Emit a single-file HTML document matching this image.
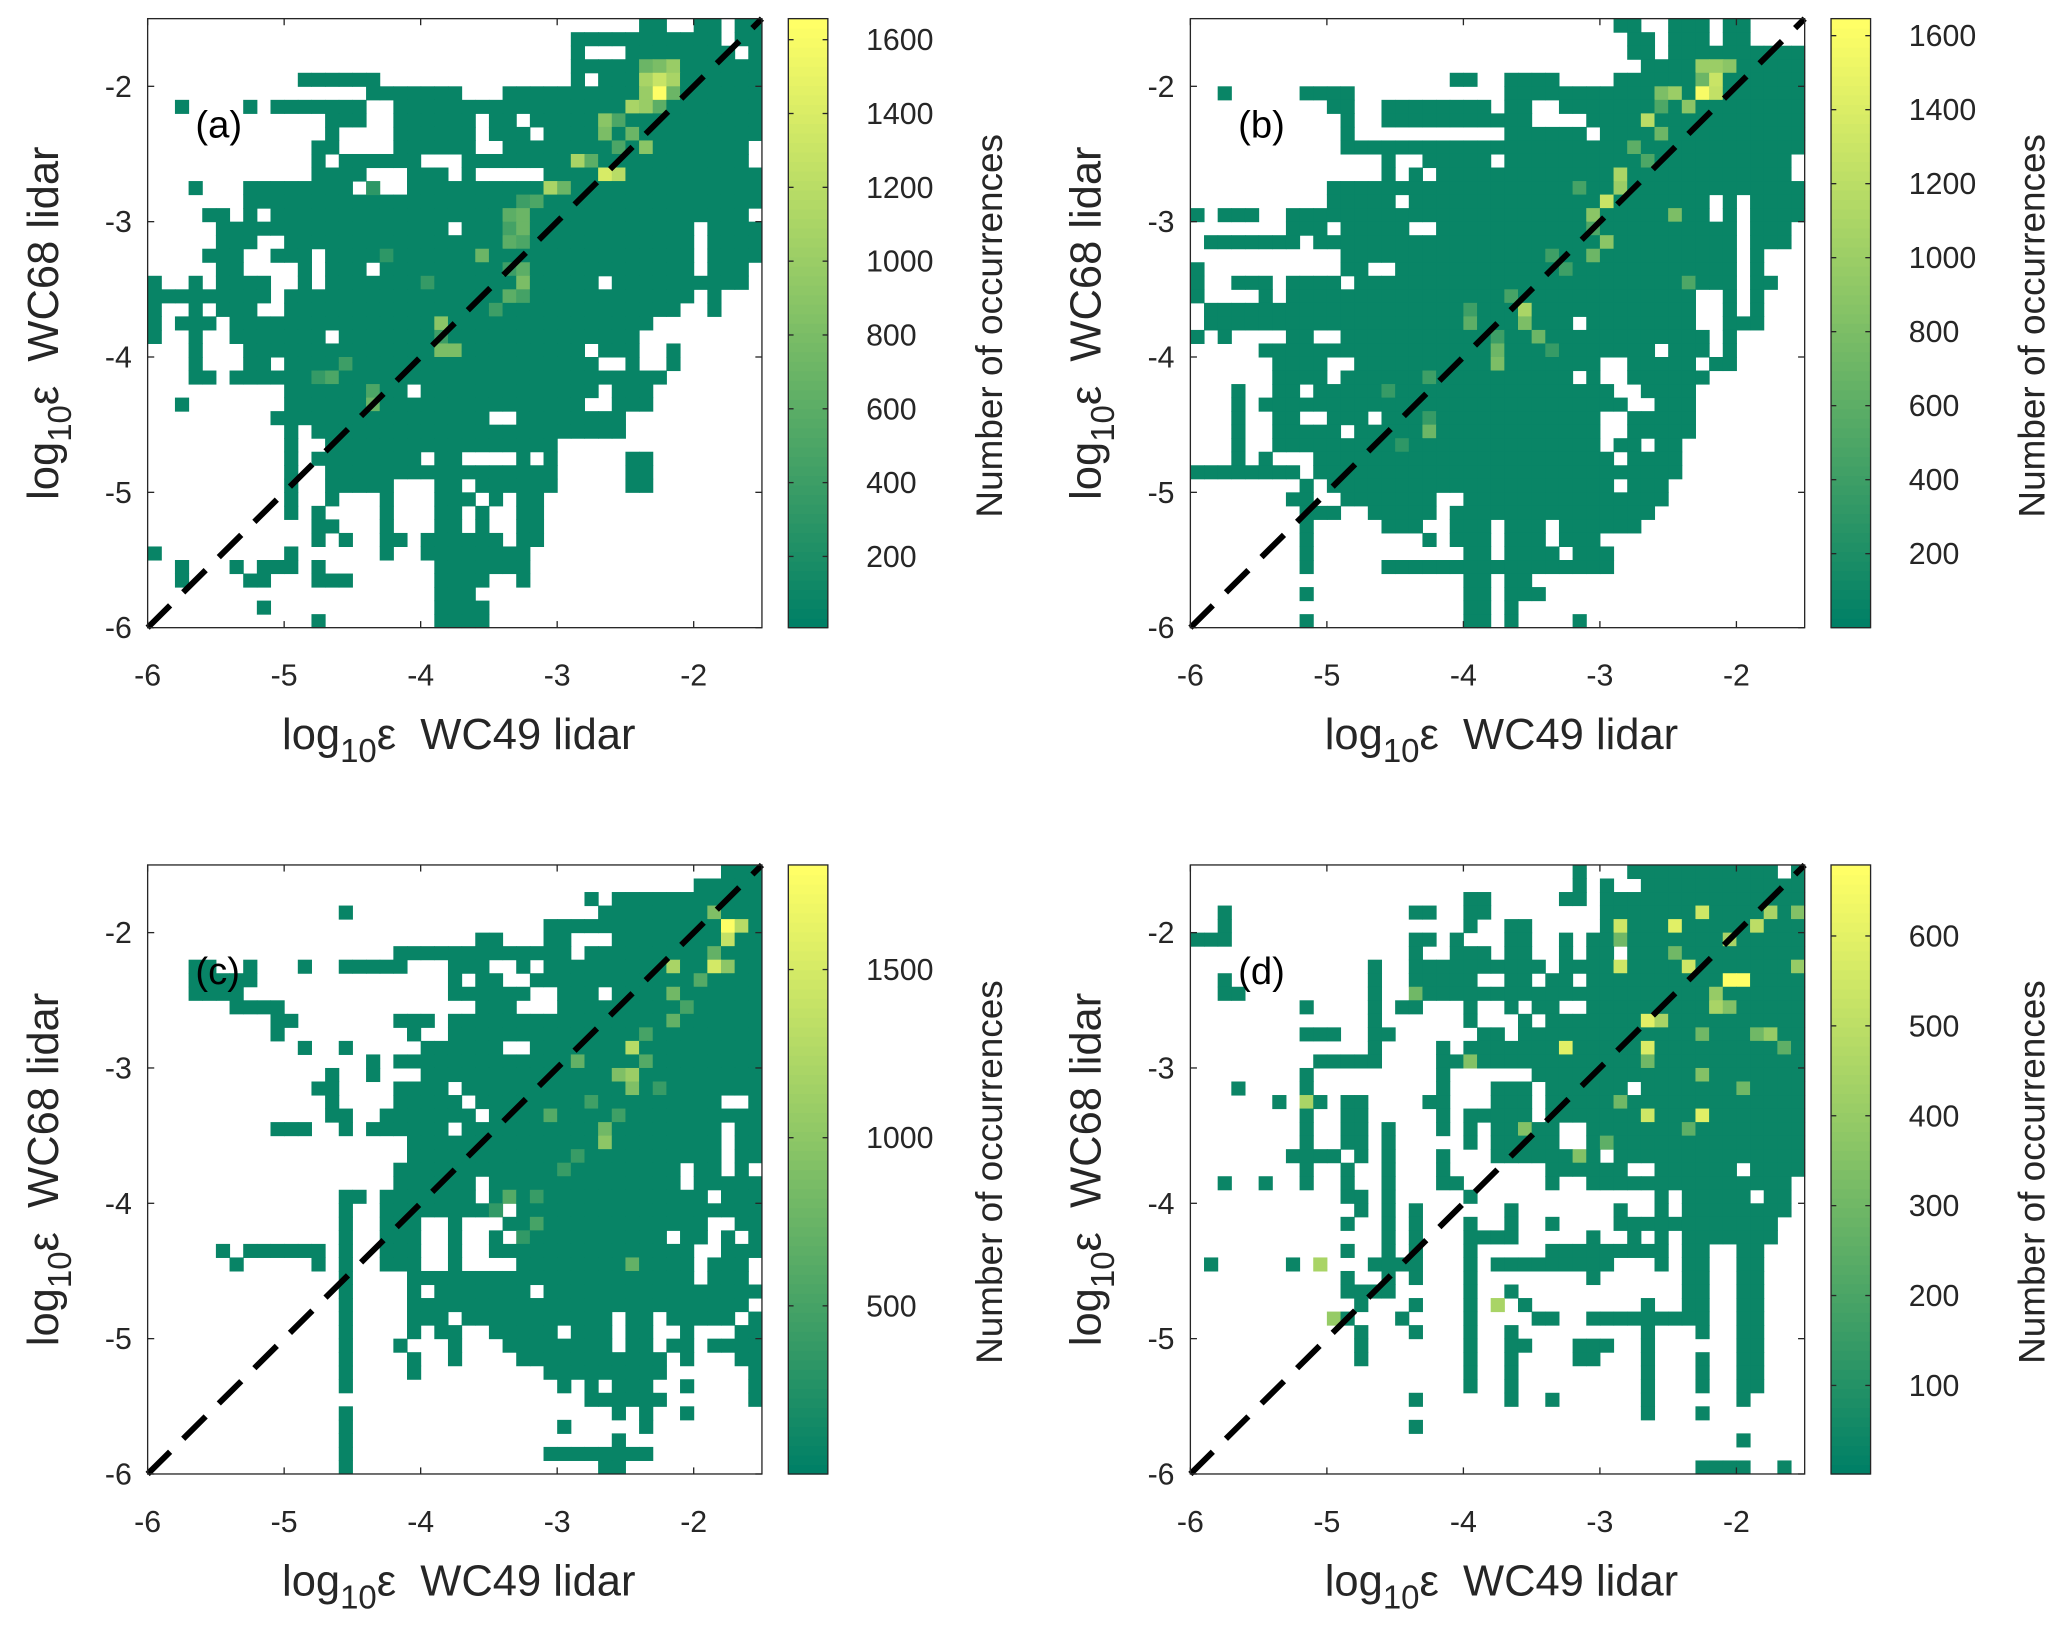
<!DOCTYPE html>
<html><head><meta charset="utf-8"><title>Dissipation rate 2D histograms</title>
<style>
html,body{margin:0;padding:0;background:#fff;}
svg{display:block;font-family:"Liberation Sans",Arial,sans-serif;}
.pre{white-space:pre;}
</style></head>
<body>
<svg id="fig" xmlns="http://www.w3.org/2000/svg" width="2067" height="1635" viewBox="0 0 1568 1240"></svg>
<script>
// ---------- data (rows listed from top bin y=-1.6..-1.5 down to -6.0..-5.9; columns from x=-6.0) ----------
const binEdgesStart = -6.0;
const binWidth = 0.1;
const xTicks = [-6, -5, -4, -3, -2];
const yTicks = [-6, -5, -4, -3, -2];
const tickLabels = ["-6", "-5", "-4", "-3", "-2"];

const runsA = ["36-37,40-41,43-44","31-41,43-44","31,35-42,44","31-44","11-16,31,33-44","16-22,26-44","2,7,9-15,18-44","13-15,18-23,25-26,28-44","13,18-23,25-27,29-44","12-13,18-23,26-43","12,14-19,23-43","12-15,19-21,23,29-44","3,7-14,19-44","7-44","4-5,7,9-43","5-21,23-39,41-44","5-7,10-39,41-44","4-6,9-11,13-39,41-44","5-6,11,13-15,17-39,41-43","0,3,5-8,11,13-32,34-43","0-8,10-39,41","0,3,5-7,10-38,41","0,2-4,6-36","0,3,6-12,14-35","3,7-31,33-35,38","3,7-8,10-32,35,38","3-4,6-37","10-18,20-32,34-36","2,10-31,34-36","9-24,27-34","10,12-34","10,13-29","10,12-19,21-22,27,29,35-36","10,13-29,35-36","10,13-17,21-22,24-29,35-36","10,13,17,21-23,25,27-28","10,12,17,21-22,24,27-28","12-13,17,21-22,24,27-28","12,14,17-18,20-25,27-28","0,10,17,20-27","2,6,8-10,12,21-27","2,7-8,12-14,21-24,27","21-23","8,21-24","12,21-24"];
const hotA = [[5,37,1650],[4,37,1300],[4,36,1100],[5,36,1000],[6,35,1100],[6,36,1000],[3,38,1000],[4,38,1100],[7,33,900],[8,33,800],[10,31,1100],[11,33,1400],[11,34,1200],[12,29,1100],[14,27,700],[14,26,600],[15,27,700],[17,24,700],[19,27,800],[20,26,600],[22,21,900],[24,21,800],[24,22,800],[26,13,500],[28,16,700],[27,16,500],[3,36,700],[3,37,800],[9,36,900],[8,35,700],[10,32,600],[12,30,700],[13,28,500],[16,26,600],[18,27,600],[5,38,700],[6,37,600],[7,34,500],[9,34,500],[13,27,400],[15,26,450],[16,27,500],[18,26,400],[20,27,450],[21,25,400],[23,21,400],[25,14,400],[26,12,350],[19,20,350],[17,17,300],[12,16,300]];

const runsB = ["31-32,35-37,39-40","32-33,35-37,39-40","32-33,35-44","33-44","19-20,23-26,31-44","2,8-11,23-44","10-11,14-21,23-24,27-44","11,14-24,29-44","11,23-28,30-44","11-44","14,17-21,23-43","14,16,18-43","10-44","10-14,16-37,39,41-44","0,2-4,7-37,39,41-44","7-9,11-15,18-39,41-43","1-7,9-39,41-43","11-39,41","0,11-12,15-39,41","0,3-5,7-10,12-39,41-42","0,5,7-36,39,41","1-36,39,41","1-27,29-36,39-41","0,2,7-8,11-37,39","5-33,35-37,39","6-9,12-29,32-36,38-39","6-9,11-27,29,32-37","3,6-7,9-30,33-36","3,5-31,34-36","3,6-7,10-12,14-29,32-36","3,6-10,12-29,32-36","3,6-29,31-32,34-35","3,5,9-30,32-35","0-7,9-35","8,10-30,32-34","7-8,11-17,20-34","8-10,13-17,19-33","8,14-16,19-21,23-25,27-32","8,17,19-21,23-25,27-29","8,20-21,23-26,28-30","8,14-30","20-21,23-24","8,20-21,23-25","20-21,23","8,20-21,23,28"];
const hotB = [[5,37,1600],[4,38,1300],[5,38,1250],[3,38,1000],[5,35,1000],[6,36,900],[7,33,1200],[11,31,1100],[12,31,1000],[13,30,1300],[14,29,900],[16,30,900],[21,24,1100],[22,24,800],[23,25,700],[22,20,600],[25,22,800],[24,22,700],[30,17,700],[14,35,800],[5,34,800],[8,34,700],[3,37,1000],[3,39,900],[9,32,600],[17,29,700],[19,36,500],[4,37,700],[6,34,500],[10,33,500],[12,28,450],[15,29,500],[17,26,400],[18,27,400],[20,23,450],[23,22,400],[26,17,400],[27,14,350],[29,17,350],[31,15,300],[21,20,400],[24,26,350]];

const runsC = ["42-44","40-44","32,34-44","14,33-44","29-44","24-25,29-30,34-44","18-30,32-44","3-4,7,11,14-18,22-24,27,29-44","3-7,22,24-25,28-44","3-6,22-27,30-32,34-44","6-9,24-26,30-44","9-10,18-20,22-44","9,19,22-44","11,14,20-25,28-44","16,18-44","13,16,20-44","12-13,18-21,23-44","13,18-22,24-41,44","13-14,17-23,25-44","9-11,14,16-21,23-41,43-44","19-41,43-44","19-41,43-44","18-38,40-41,43","18-23,25-38,40-44","14-15,17-23,25-40,42-44","14,17-25,27-44","14,17-19,22,26-40,43-44","14,17-19,22,25,27-37,39-40,42,44","5,7-12,14,17-19,22,25-39,42-44","6,12,14,17-19,22,27-39,41-43","14,19-39,41-43","14,19,21-27,29-44","14,19-43","14,19-21,23-33,35-36,38-42,44","14,19,21-22,25-29,31-33,35-36,39,43-44","14,18,22,26-33,35-36,38-39,41-44","14,19,22,27-37,39,43-44","14,19,29-37,44","14,30,32,34-36,39,44","32-37,44","14,34,36,39","14,30,36","14,34","14,29-36","14,33-34"];
const hotC = [[4,42,1800],[5,42,1400],[4,43,1300],[7,41,1500],[7,38,1200],[7,42,1000],[3,41,900],[13,35,1300],[15,35,1100],[15,34,900],[16,35,900],[20,33,1000],[19,33,800],[29,35,700],[14,31,700],[9,38,800],[11,38,700],[18,29,600],[24,26,600],[26,28,500],[6,41,700],[8,40,600],[10,39,500],[12,36,500],[14,36,600],[17,32,450],[21,31,400],[22,30,400],[24,28,400],[25,25,350],[27,27,350],[18,34,450],[16,37,400]];

const runsD = ["28,32-42,44","28,30,33-44","20-21,27-28,30-44","2,16-17,20-21,30-44","2,20,23-24,30-44","0-2,16-17,19,23-24,27,29-44","16,19-21,23-24,27,29-30,32-44","13,16-25,27-44","2,13,16-20,23-24,26-27,29-44","2-3,13,16-44","8,13,15-16,20,23,25-26,29-44","13,20,24,26-44","8-10,13-14,21-22,24-44","13,18,20-44","9-13,18-44","8,18,25-44","3,8,18,22-24,26-31,33-44","6,8-9,11-12,17-18,22-24,26-44","8,11-12,18,20-24,26-44","8,11-12,14,18,20,22-26,29-44","8,11-12,14,20,22-26,29-44","7-10,12,14,18,22-29,31-44","8,11,14,18,26-31,34-39,41-44","2,5,8,11,14,18-19,26,29-43","11-12,14,20,34,36-40,42-43","12,14,16,23,31,34,36-43","11,14,16,20,23,26,31-42","14,16,20-23,29,32,34,36-42","11,14,16,20,26-34,36-37,40-41","1,7,9,13-16,20,22-30,34,36-37,40-41","11,14,16,20,29,36-37,40-41","11-14,20,23,36-37,40-41","12,16,20,22,24,33,36-37,40-41","10-11,15,20,25-26,29-37,40-41","12,16,20,23,33,37,40-41","12,20,23-24,28-30,33,40-41","12,20,23,28-29,33,37,40-41","20,23,33,37,40-41","20,23,33,37,40-41","16,23,26,33,40","33,37","16","40","","37-40,43"];
const hotD = [[8,39,680],[8,40,680],[3,37,550],[4,35,600],[4,31,550],[7,31,550],[7,36,550],[11,33,600],[13,33,580],[13,27,600],[18,33,550],[18,37,600],[17,8,450],[29,9,450],[32,22,450],[33,10,400],[3,42,450],[4,41,500],[5,39,450],[10,38,450],[11,34,450],[12,42,400],[15,37,350],[14,20,350],[21,28,350],[19,24,350],[9,16,300],[7,44,400],[3,44,350],[5,31,300],[6,35,300],[9,38,400],[10,39,350],[12,37,300],[14,33,300],[16,40,300],[17,31,300],[19,36,250],[20,30,250],[12,41,300],[13,43,250]];

const baseCounts = [60, 60, 60, 30];
const cbMin = [7, 0, 0, 1.5];
const cbMax = [1657, 1646, 1811, 679];
const cbTicksA = [200, 400, 600, 800, 1000, 1200, 1400, 1600];
const cbTicksB = [200, 400, 600, 800, 1000, 1200, 1400, 1600];
const cbTicksC = [500, 1000, 1500];
const cbTicksD = [100, 200, 300, 400, 500, 600];
const panelLetters = ["(a)", "(b)", "(c)", "(d)"];

// ---------- layout ----------
const svg = document.getElementById('fig');
const NS = 'http://www.w3.org/2000/svg';
const panels = [
  {ox:112, oy:14, runs:runsA, hot:hotA, ticks:cbTicksA},
  {ox:903, oy:14, runs:runsB, hot:hotB, ticks:cbTicksB},
  {ox:112, oy:656, runs:runsC, hot:hotC, ticks:cbTicksC},
  {ox:903, oy:656, runs:runsD, hot:hotD, ticks:cbTicksD}
];
const PW = 466, PH = 462, CBX = 486, CBW = 30;

function mk(tag, attrs, parent){
  const e = document.createElementNS(NS, tag);
  for (const k in attrs) e.setAttribute(k, attrs[k]);
  parent.appendChild(e);
  return e;
}
function colorOf(t){
  t = Math.max(0, Math.min(1, t));
  const r = Math.round(255*t), g = Math.round(128 + 127*t);
  return 'rgb(' + r + ',' + g + ',102)';
}
function parseRuns(s){
  const out = [];
  if (!s) return out;
  s.split(',').forEach(p => {
    const ab = p.split('-').map(Number);
    const a = ab[0], b = ab.length > 1 ? ab[1] : ab[0];
    for (let c = a; c <= b; c++) out.push(c);
  });
  return out;
}

panels.forEach((p, pi) => {
  const xs = v => p.ox + (v - (-6)) / 4.5 * PW;
  const ys = v => p.oy + PH - (v - (-6)) / 4.5 * PH;
  const g = mk('g', {}, svg);
  
  

  const vals = {};
  p.runs.forEach((s, r) => parseRuns(s).forEach(c => { vals[r + '_' + c] = baseCounts[pi]; }));
  p.hot.forEach(h => { vals[h[0] + '_' + h[1]] = h[2]; });
  const cells = mk('g', {}, g);
  
  
  for (const key in vals) {
    const rc = key.split('_').map(Number);
    const r = rc[0], c = rc[1];
    const x0 = binEdgesStart + c * binWidth, x1 = x0 + binWidth;
    const yTop = -1.5 - r * binWidth, yBot = yTop - binWidth;
    const t = (vals[key] - cbMin[pi]) / (cbMax[pi] - cbMin[pi]);
    const rect = mk('rect', {x: xs(x0), y: ys(yTop), width: xs(x1) - xs(x0) + 0.4, height: ys(yBot) - ys(yTop) + 0.4, fill: colorOf(t)}, cells);
    
    
  }

  const dl = mk('line', {x1: xs(-6), y1: ys(-6), x2: xs(-1.5), y2: ys(-1.5), stroke: '#000', 'stroke-width': 4.5, 'stroke-dasharray': '24 14'}, g);
  
  

  const box = mk('rect', {x: p.ox, y: p.oy, width: PW, height: PH, fill: 'none', stroke: '#262626', 'stroke-width': 1}, g);
  
  

  xTicks.forEach((v, i) => {
    const x = xs(v);
    mk('line', {x1: x, y1: p.oy + PH, x2: x, y2: p.oy + PH - 5, stroke: '#262626'}, g);
    mk('line', {x1: x, y1: p.oy, x2: x, y2: p.oy + 5, stroke: '#262626'}, g);
    const t = mk('text', {x: x, y: p.oy + PH + 44, 'font-size': 23, fill: '#262626', 'text-anchor': 'middle'}, g);
    t.textContent = tickLabels[i];
    
    
  });
  yTicks.forEach((v, i) => {
    const y = ys(v);
    mk('line', {x1: p.ox, y1: y, x2: p.ox + 5, y2: y, stroke: '#262626'}, g);
    mk('line', {x1: p.ox + PW, y1: y, x2: p.ox + PW - 5, y2: y, stroke: '#262626'}, g);
    const t = mk('text', {x: p.ox - 12, y: y + 8, 'font-size': 23, fill: '#262626', 'text-anchor': 'end'}, g);
    t.textContent = tickLabels[i];
    
    
  });

  const xl = mk('text', {x: p.ox + 236, y: p.oy + PH + 92, 'font-size': 33, fill: '#262626', 'text-anchor': 'middle', class: 'pre'}, g);
  xl.innerHTML = 'log<tspan dy="10" font-size="25">10</tspan><tspan dy="-10">ε  WC49 lidar</tspan>';
  
  

  const yl = mk('text', {x: 0, y: 0, 'font-size': 33, fill: '#262626', 'text-anchor': 'middle', class: 'pre', transform: 'translate(' + (p.ox - 68) + ',' + (p.oy + 231) + ') rotate(-90)'}, g);
  yl.innerHTML = 'log<tspan dy="10" font-size="25">10</tspan><tspan dy="-10">ε  WC68 lidar</tspan>';
  
  

  const pl = mk('text', {x: xs(-5.65), y: ys(-2.38), 'font-size': 29, fill: '#000'}, g);
  pl.textContent = panelLetters[pi];
  
  

  const cb = mk('g', {}, g);
  
  
  const cx = p.ox + CBX, nSteps = 64;
  for (let k = 0; k < nSteps; k++) {
    const y0 = p.oy + PH - (k + 1) * PH / nSteps;
    mk('rect', {x: cx, y: y0, width: CBW, height: PH / nSteps + 0.5, fill: colorOf(k / (nSteps - 1))}, cb);
  }
  mk('rect', {x: cx, y: p.oy, width: CBW, height: PH, fill: 'none', stroke: '#262626', 'stroke-width': 1}, cb);
  const cys = v => p.oy + PH - (v - cbMin[pi]) / (cbMax[pi] - cbMin[pi]) * PH;
  p.ticks.forEach(v => {
    const y = cys(v);
    mk('line', {x1: cx + CBW, y1: y, x2: cx + CBW - 4, y2: y, stroke: '#262626'}, cb);
    mk('line', {x1: cx, y1: y, x2: cx + 4, y2: y, stroke: '#262626'}, cb);
    const t = mk('text', {x: cx + 59, y: y + 8, 'font-size': 23, fill: '#262626'}, cb);
    t.textContent = String(v);
    
    
  });
  const cl = mk('text', {x: 0, y: 0, 'font-size': 28, fill: '#262626', 'text-anchor': 'middle', transform: 'translate(' + (cx + 162) + ',' + (p.oy + 233) + ') rotate(-90)'}, cb);
  cl.textContent = 'Number of occurrences';
  
  
});
</script>
</body></html>
